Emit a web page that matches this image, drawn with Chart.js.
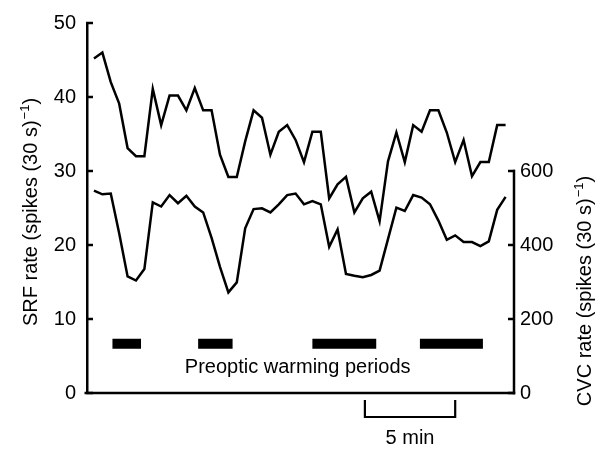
<!DOCTYPE html>
<html><head><meta charset="utf-8">
<script src="https://cdn.jsdelivr.net/npm/chart.js@4"></script>
<style>html,body{margin:0;padding:0;background:#fff}</style>
</head><body>
<canvas id="c" width="599" height="450"></canvas>
<script>
// ---- data (30 s bins) ----
const timeBins = [0,1,2,3,4,5,6,7,8,9,10,11,12,13,14,15,16,17,18,19,20,21,22,23,24,25,26,27,28,29,30,31,32,33,34,35,36,37,38,39,40,41,42,43,44,45,46,47,48,49];
const srfRate = [45.2,46.0,42.0,39.1,33.1,32.0,32.0,41.1,36.2,40.2,
                 40.2,38.2,41.2,38.2,38.2,32.2,29.2,29.2,34.0,38.2,
                 37.2,32.2,35.3,36.2,34.2,31.2,35.3,35.3,26.3,28.2,
                 29.2,24.4,26.3,27.2,23.2,31.3,35.2,31.2,36.2,35.3,
                 38.2,38.2,35.2,31.2,34.2,29.3,31.2,31.2,36.2,36.2];
const cvcRate = [547,537,539,432,315,304,335,515,504,535,
                 513,533,504,488,419,341,272,299,445,497,
                 499,488,510,535,539,510,519,510,395,442,
                 322,317,313,319,331,416,501,492,535,528,
                 510,466,414,426,408,408,397,410,495,530];
const leftTicks = [0,10,20,30,40,50];
const rightTicks = [0,200,400,600];
const warmingStarts = [2.2,12.4,26.0,38.8];
const warmingEnds   = [5.6,16.5,33.6,46.3];
const warmingLabel = 'Preoptic warming periods';
const scaleBarStart = 32.25, scaleBarEnd = 43.0, scaleBarLabel = '5 min';
const leftTitle = ['SRF rate (spikes (30 s)', '\u22121', ')'];
const rightTitle = ['CVC rate (spikes (30 s)', '\u22121', ')'];

const WARM_LEVEL = 6.67;
const FONT = '"Liberation Sans", Arial, Helvetica, sans-serif';
const FS = 20;

const warmData = [];
warmingStarts.forEach((s, i) => {
  warmData.push({x: s, y: WARM_LEVEL}, {x: warmingEnds[i], y: WARM_LEVEL}, {x: warmingEnds[i], y: null});
});

function drawTitle(ctx, parts, cx, cy) {
  ctx.save();
  ctx.translate(cx, cy);
  ctx.rotate(-Math.PI / 2);
  ctx.fillStyle = '#000';
  ctx.textBaseline = 'alphabetic';
  ctx.textAlign = 'left';
  const big = FS + 'px ' + FONT, small = '13px ' + FONT;
  ctx.font = big; const w1 = ctx.measureText(parts[0]).width; const w3 = ctx.measureText(parts[2]).width;
  ctx.font = small; const w2 = ctx.measureText(parts[1]).width;
  const total = w1 + w2 + w3 + 1;
  let x = -total / 2;
  const base = 7;
  ctx.font = big; ctx.fillText(parts[0], x, base); x += w1 + 1;
  ctx.font = small; ctx.fillText(parts[1], x, base - 8); x += w2;
  ctx.font = big; ctx.fillText(parts[2], x, base);
  ctx.restore();
}

const decor = {
  id: 'decor',
  afterDraw(chart) {
    const ctx = chart.ctx, ca = chart.chartArea;
    const xs = chart.scales.x, yl = chart.scales.yL, yr = chart.scales.yR;
    ctx.save();
    ctx.strokeStyle = '#000'; ctx.lineWidth = 2.5; ctx.lineCap = 'butt';
    const y0 = yl.getPixelForValue(0);
    // bottom axis
    ctx.beginPath(); ctx.moveTo(ca.left - 2.5, y0); ctx.lineTo(ca.right + 1.25, y0); ctx.stroke();
    // right axis (0..600)
    ctx.beginPath(); ctx.moveTo(ca.right, y0 + 1.25); ctx.lineTo(ca.right, yr.getPixelForValue(600) - 1.25); ctx.stroke();
    // inward ticks
    leftTicks.forEach(v => { const y = yl.getPixelForValue(v); ctx.beginPath(); ctx.moveTo(ca.left - 1, y); ctx.lineTo(ca.left + 6, y); ctx.stroke(); });
    rightTicks.forEach(v => { const y = yr.getPixelForValue(v); ctx.beginPath(); ctx.moveTo(ca.right + 1, y); ctx.lineTo(ca.right - 6, y); ctx.stroke(); });
    // scale bar
    const sx1 = xs.getPixelForValue(scaleBarStart), sx2 = xs.getPixelForValue(scaleBarEnd);
    ctx.lineWidth = 2.2;
    ctx.beginPath(); ctx.moveTo(sx1, y0 + 7); ctx.lineTo(sx1, y0 + 24); ctx.lineTo(sx2, y0 + 24); ctx.lineTo(sx2, y0 + 7); ctx.stroke();
    ctx.fillStyle = '#000'; ctx.font = FS + 'px ' + FONT; ctx.textAlign = 'center'; ctx.textBaseline = 'middle';
    ctx.fillText(scaleBarLabel, (sx1 + sx2) / 2, y0 + 45);
    // warming label
    const wx = (xs.getPixelForValue(warmingStarts[0]) + xs.getPixelForValue(warmingEnds[warmingEnds.length - 1])) / 2;
    ctx.fillText(warmingLabel, wx, yl.getPixelForValue(WARM_LEVEL) + 24);
    ctx.restore();
    drawTitle(ctx, leftTitle, 30, 212);
    drawTitle(ctx, rightTitle, 584, 291);
  }
};

new Chart(document.getElementById('c'), {
  type: 'line',
  data: {
    datasets: [
      { label: 'SRF', data: timeBins.map((t, i) => ({x: t, y: srfRate[i]})), yAxisID: 'yL',
        borderColor: '#000', borderWidth: 2.5, pointRadius: 0, tension: 0, fill: false },
      { label: 'CVC', data: timeBins.map((t, i) => ({x: t, y: cvcRate[i]})), yAxisID: 'yR',
        borderColor: '#000', borderWidth: 2.5, pointRadius: 0, tension: 0, fill: false },
      { label: 'Warming', data: warmData, yAxisID: 'yL', borderColor: '#000', borderWidth: 10,
        borderCapStyle: 'butt', pointRadius: 0, spanGaps: false, fill: false }
    ]
  },
  options: {
    responsive: false, animation: false, events: [],
    plugins: { legend: { display: false }, tooltip: { enabled: false } },
    layout: { padding: { top: 18, bottom: 57, left: 0, right: 0 } },
    scales: {
      x: { type: 'linear', min: -0.83, max: 50, display: false },
      yL: { position: 'left', min: 0, max: 50,
        afterBuildTicks: s => { s.ticks = leftTicks.map(v => ({value: v})); },
        afterFit: s => { s.width = 87; },
        grid: { drawOnChartArea: false, drawTicks: false },
        border: { display: true, color: '#000', width: 2.5 },
        ticks: { padding: 11, color: '#000', font: { family: FONT, size: FS } } },
      yR: { position: 'right', min: 0, max: 1000,
        afterBuildTicks: s => { s.ticks = rightTicks.map(v => ({value: v})); },
        afterFit: s => { s.width = 85; },
        grid: { drawOnChartArea: false, drawTicks: false },
        border: { display: false },
        ticks: { padding: 6, color: '#000', font: { family: FONT, size: FS } } }
    }
  },
  plugins: [decor]
});
</script>
</body></html>
